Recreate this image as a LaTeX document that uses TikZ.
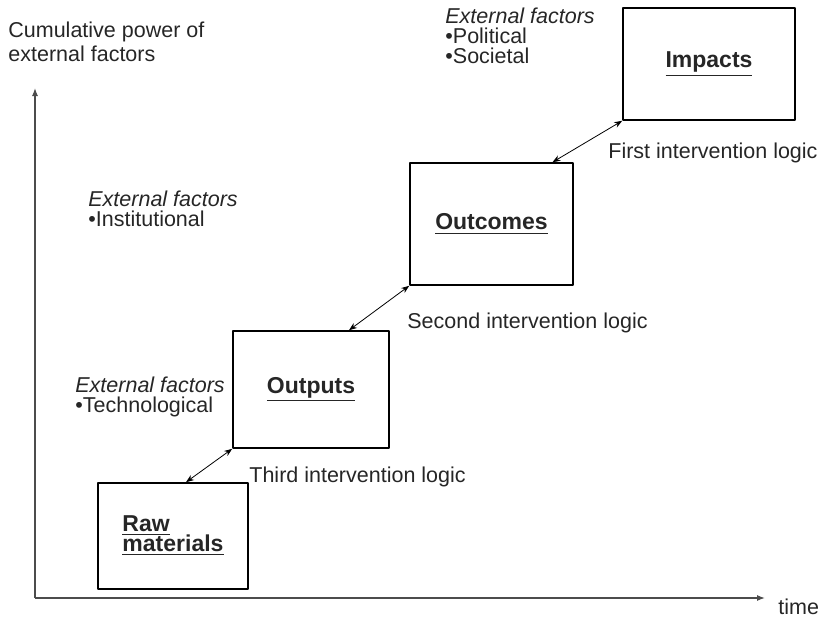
\documentclass[tikz,border=0pt]{standalone}
\usepackage{fontspec}
\setmainfont{Liberation Sans}
\usetikzlibrary{arrows.meta,calc}
\tikzset{
  stage/.style={draw,line width=0.8pt,inner sep=0pt,font=\fontsize{11.5}{12}\selectfont\bfseries,align=left},
  factors/.style={anchor=base west,align=left,inner sep=0pt},
  logic/.style={anchor=base west,inner sep=0pt},
}
\begin{document}
\begin{tikzpicture}[x=0.5pt,y=-0.5pt,line join=round,>={Stealth[length=4pt,width=3pt]},font=\fontsize{10.75}{10}\selectfont,text=black!85]
    \useasboundingbox (0,0) rectangle (820,634);
    % axes
    \coordinate (origin) at (35,598);
    \draw[-{Latex[length=4pt,width=3pt]},black!70,line width=0.6pt] (origin) -- (35,88);
    \draw[-{Latex[length=4pt,width=3pt]},black!70,line width=0.6pt] (origin) -- (765,598);
    \node[logic] (time) at (778,614) {time};
    \node[factors,font=\fontsize{10.75}{12}\selectfont] (ylabel) at (8,61) {Cumulative power of\\external factors};
    % stages
    \node[stage,minimum width=75pt,minimum height=53pt] (raw) at (173,536) {\underline{Raw}\\[-2pt]\underline{materials}};
    \node[stage,minimum width=78pt,minimum height=58.5pt] (outputs) at (311,389.5) {\underline{Outputs}};
    \node[stage,minimum width=81.5pt,minimum height=61pt] (outcomes) at (491.5,224) {\underline{Outcomes}};
    \node[stage,minimum width=86pt,minimum height=56pt] (impacts) at (709,64) {\underline{Impacts}};
    % external factors
    \node[factors] (techf) at (75,412) {\textit{External factors}\\\textbullet Technological};
    \node[factors] (instf) at (88,226) {\textit{External factors}\\\textbullet Institutional};
    \node[factors] (polf) at (445,63) {\textit{External factors}\\\textbullet Political\\\textbullet Societal};
    % intervention logics
    \draw[<->] ($(raw.north)+(13,0)$) -- (outputs.south west);
    \draw[<->] ($(outputs.north)+(38,0)$) -- (outcomes.south west);
    \draw[<->] ($(outcomes.north)+(61,0)$) -- (impacts.south west);
    \node[logic] (third) at (249,482) {Third intervention logic};
    \node[logic] (second) at (407,328) {Second intervention logic};
    \node[logic] (first) at (608,158) {First intervention logic};
\end{tikzpicture}
\end{document}
